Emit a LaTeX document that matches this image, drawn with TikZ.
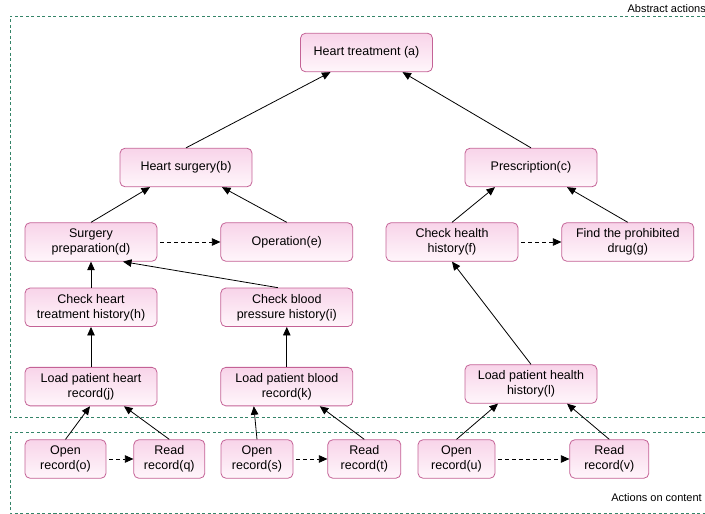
\documentclass[tikz,border=0pt]{standalone}
\usepackage{fontspec}
\setmainfont{Liberation Sans}
\usetikzlibrary{arrows.meta,positioning}
\definecolor{boxline}{RGB}{196,98,150}
\definecolor{boxtop}{RGB}{248,212,233}
\definecolor{boxbottom}{RGB}{255,246,251}
\definecolor{framegreen}{RGB}{52,132,104}
\tikzset{%
  >={Triangle[width=7.5pt,length=8.5pt]},
  % Specifications for style of nodes:
       action/.style = {rectangle, rounded corners=5pt, draw=boxline,
                        line width=0.8pt, top color=boxtop,
                        bottom color=boxbottom, minimum width=132pt,
                        minimum height=38.5pt, inner sep=1pt, align=center,
                        text centered, font=\fontsize{12.5}{15}\selectfont},
  smallaction/.style = {action, minimum width=#1},
      areabox/.style = {draw=framegreen, line width=0.7pt,
                        dash pattern=on 3pt off 2.5pt},
    areatitle/.style = {anchor=east, inner sep=0pt,
                        font=\fontsize{11}{13}\selectfont},
         flow/.style = {->, line width=0.8pt},
     sequence/.style = {flow, dash pattern=on 4pt off 3pt,
                        shorten <=3pt},
}
\begin{document}
\begin{tikzpicture}[x=1pt, y=-1pt, node distance=26pt]
  \useasboundingbox (0,0) rectangle (705,514);
  % Specification of the two areas
  \draw[areabox] (705,16) -- (10,16) -- (10,417) -- (705,417);
  \draw[areabox] (705,432) -- (10,432) -- (10,513) -- (705,513);
  \node (abstract) [areatitle] at (706,9) {Abstract actions};
  \node (content)  [areatitle] at (702,498) {Actions on content};
  % Specification of nodes (position, etc.)
  \node (a) [action] at (366.5,52.5) {Heart treatment (a)};
  \node (b) [action] at (186,167.5)  {Heart surgery(b)};
  \node (c) [action] at (531,167.5)  {Prescription(c)};
  \node (d) [action] at (91,242)     {Surgery\\preparation(d)};
  \node (e) [action, right=63pt of d] {Operation(e)};
  \node (f) [action] at (452,242)    {Check health\\history(f)};
  \node (g) [action, right=43pt of f] {Find the prohibited\\drug(g)};
  \node (h) [action, below=of d]     {Check heart\\treatment history(h)};
  \node (i) [action, below=of e]     {Check blood\\pressure history(i)};
  \node (j) [action, below=40pt of h] {Load patient heart\\record(j)};
  \node (k) [action, below=40pt of i] {Load patient blood\\record(k)};
  \node (l) [action] at (531,384)    {Load patient health\\history(l)};
  \node (o) [smallaction=81pt] at (65.5,459)  {Open\\record(o)};
  \node (q) [smallaction=71pt, right=27pt of o] {Read\\record(q)};
  \node (s) [smallaction=72pt] at (257,459)   {Open\\record(s)};
  \node (t) [smallaction=73pt, right=34pt of s] {Read\\record(t)};
  \node (u) [smallaction=77pt] at (456.5,459) {Open\\record(u)};
  \node (v) [smallaction=79pt, right=74pt of u] {Read\\record(v)};
  % Specification of lines between nodes specified above
  \draw[flow] (b.north) -- ([xshift=-36pt]a.south);
  \draw[flow] (c.north) -- ([xshift=36pt]a.south);
  \draw[flow] (d.north) -- ([xshift=-36pt]b.south);
  \draw[flow] (e.north) -- ([xshift=36pt]b.south);
  \draw[flow] (f.north) -- ([xshift=-36pt]c.south);
  \draw[flow] (g.north) -- ([xshift=36pt]c.south);
  \draw[sequence] (d) -- (e);
  \draw[sequence] (f) -- (g);
  \draw[flow] (h) -- (d);
  \draw[flow] ([xshift=-9pt]i.north) -- ([xshift=32pt]d.south);
  \draw[flow] (j) -- (h);
  \draw[flow] (k) -- (i);
  \draw[flow] (l.north) -- (f.south);
  \draw[flow] (o.north) -- ([xshift=-1pt]j.south);
  \draw[flow] (q.north) -- ([xshift=33pt]j.south);
  \draw[flow] (s.north) -- ([xshift=-33pt]k.south);
  \draw[flow] (t.north) -- ([xshift=33pt]k.south);
  \draw[flow] (u.north) -- ([xshift=-33pt]l.south);
  \draw[flow] (v.north) -- ([xshift=36pt]l.south);
  \draw[sequence] (o) -- (q);
  \draw[sequence] (s) -- (t);
  \draw[sequence] (u) -- (v);
\end{tikzpicture}
\end{document}
